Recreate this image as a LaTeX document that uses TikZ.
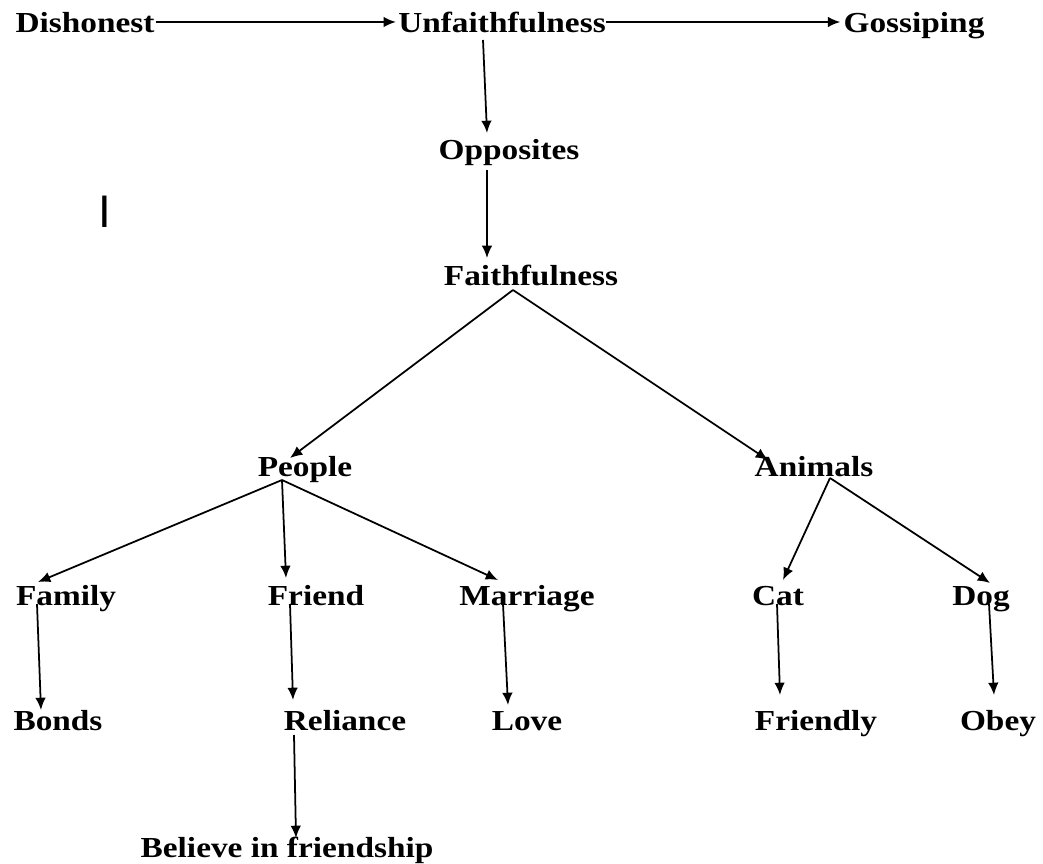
\documentclass[tikz,border=0pt]{standalone}
\usepackage{fontspec}
\setmainfont[FakeStretch=1.15]{Liberation Serif}
\newfontfamily\barfont{Liberation Sans}
\usetikzlibrary{arrows.meta,calc}

\tikzset{
  word/.style={anchor=base, inner sep=0pt, font=\fontsize{16.5}{19}\selectfont\bfseries},
  link/.style={line width=1pt, -{Latex[length=7pt,width=6pt]}}
}

\begin{document}
\begin{tikzpicture}[x=0.02cm, y=-0.02cm]
\useasboundingbox (0,0) rectangle (1043,864);
% words
\node[word] (dis) at (85,33) {Dishonest};
\node[word] (unf) at (502,33) {Unfaithfulness};
\node[word] (gos) at (914,33) {Gossiping};
\node[word] (opp) at (509,160) {Opposites};
\node[word] (fai) at (531,286) {Faithfulness};
\node[word] (peo) at (305,476) {People};
\node[word] (ani) at (814,476) {Animals};
\node[word] (fam) at (66,605) {Family};
\node[word] (fri) at (316,605) {Friend};
\node[word] (mar) at (527,605) {Marriage};
\node[word] (cat) at (778,605) {Cat};
\node[word] (dog) at (981,605) {Dog};
\node[word] (bon) at (58,730) {Bonds};
\node[word] (rel) at (345,730) {Reliance};
\node[word] (lov) at (527,730) {Love};
\node[word] (frd) at (816,730) {Friendly};
\node[word] (obe) at (998,730) {Obey};
\node[word] (bel) at (287,857) {Believe in friendship};
\node[anchor=base, inner sep=0pt, font=\barfont\fontsize{26}{28}\selectfont] (mark) at (105,228) {I};
% arrows
\draw[link] ($(dis.base east)+(1,-11)$) -- ($(unf.base west)+(-2,-11)$);
\draw[link] ($(unf.base east)+(0,-11)$) -- ($(gos.base west)+(-3,-11)$);
\draw[link] ($(unf.base)+(-19,7)$) -- ($(opp.base)+(-22,-27)$);
\draw[link] ($(opp.base)+(-22,10)$) -- ($(fai.base)+(-44,-28)$);
\draw[link] ($(fai.base)+(-18,4)$) -- ($(peo.base)+(-15,-18)$);
\draw[link] ($(fai.base)+(-18,4)$) -- ($(ani.base)+(-46,-16)$);
\draw[link] ($(peo.base)+(-23,4)$) -- ($(fam.base)+(-28,-23)$);
\draw[link] ($(peo.base)+(-23,4)$) -- ($(fri.base)+(-30,-27)$);
\draw[link] ($(peo.base)+(-23,4)$) -- ($(mar.base)+(-29,-25)$);
\draw[link] ($(ani.base)+(16,2)$) -- ($(cat.base)+(5,-25)$);
\draw[link] ($(ani.base)+(16,2)$) -- ($(dog.base)+(9,-22)$);
\draw[link] ($(fam.base)+(-29,-1)$) -- ($(bon.base)+(-17,-20)$);
\draw[link] ($(fri.base)+(-26,-1)$) -- ($(rel.base)+(-52,-30)$);
\draw[link] ($(mar.base)+(-24,-1)$) -- ($(lov.base)+(-19,-25)$);
\draw[link] ($(cat.base)+(-1,-1)$) -- ($(frd.base)+(-36,-35)$);
\draw[link] ($(dog.base)+(8,-1)$) -- ($(obe.base)+(-4,-35)$);
\draw[link] ($(rel.base)+(-51,5)$) -- ($(bel.base)+(9,-19)$);
\end{tikzpicture}
\end{document}
